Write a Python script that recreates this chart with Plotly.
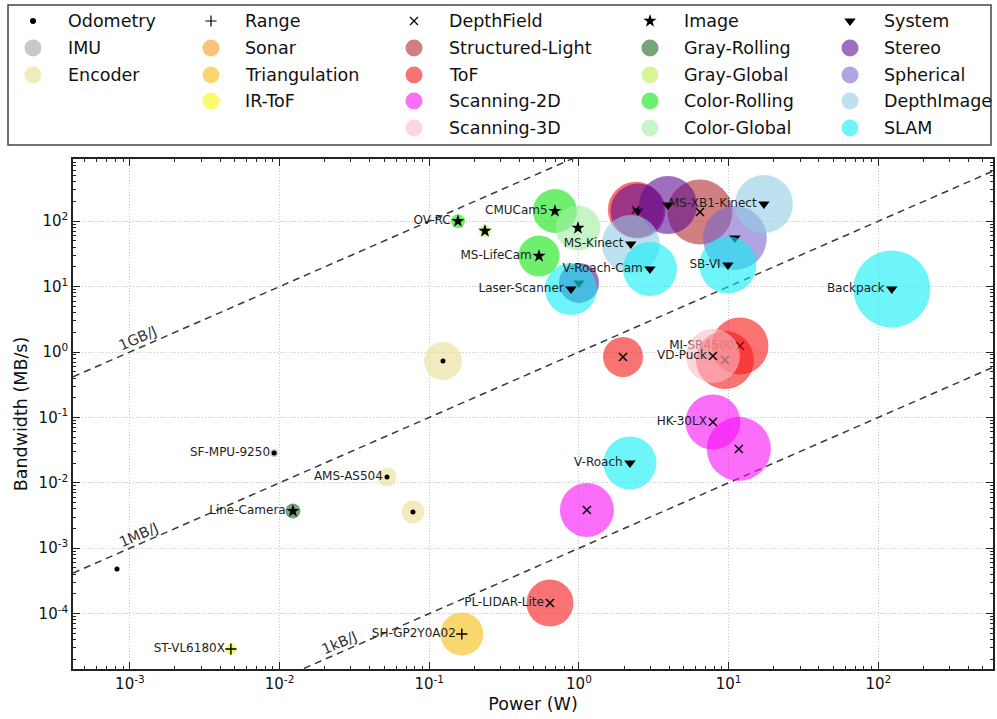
import numpy as np
import plotly.graph_objects as go

# ---------------- data ----------------
odometry_categories = ["IMU", "Encoder"]
range_categories = ["Sonar", "Triangulation", "IR-ToF"]
depthfield_categories = ["Structured-Light", "ToF", "Scanning-2D", "Scanning-3D"]
image_categories = ["Gray-Rolling", "Gray-Global", "Color-Rolling", "Color-Global"]
system_categories = ["Stereo", "Spherical", "DepthImage", "SLAM"]
group_names = ["Odometry", "Range", "DepthField", "Image", "System"]

device_label = ["", "SF-MPU-9250", "AMS-AS504", "", "",
                "ST-VL6180X", "SH-GP2Y0A02",
                "", "MI-SR4500", "", "", "PL-LIDAR-Lite", "", "HK-30LX", "", "", "VD-Puck",
                "Line-Camera", "", "OV-RC", "CMUCam5", "MS-LifeCam", "",
                "", "", "", "", "MS-Kinect", "MS-XB1-Kinect",
                "Laser-Scanner", "V-Roach-Cam", "SB-VI", "Backpack", "V-Roach"]
device_power_w = [8.2e-4, 9.2e-3, 0.0522, 0.0778, 0.1235,
                  4.73e-3, 0.165,
                  6.43, 11.9, 9.45, 1.97, 0.64, 2.40, 7.85, 11.7, 1.13, 7.85,
                  0.01228, 0.2355, 0.1555, 0.691, 0.541, 0.985,
                  1.0, 2.48, 3.93, 11.0, 2.22, 17.2,
                  0.885, 2.98, 9.89, 123.0, 2.19]
device_bandwidth_mbs = [4.8e-4, 0.0286, 0.0123, 3.58e-3, 0.728,
                        2.87e-5, 4.88e-5,
                        138, 1.24, 0.755, 0.84, 1.45e-4, 150, 0.085, 0.0329, 3.84e-3, 0.869,
                        3.7e-3, 70.8, 100, 143, 29.4, 78.7,
                        11.4, 143, 177, 55.3, 44.8, 183,
                        9.19, 18.6, 21.4, 9.19, 0.0201]
device_group = ["Odometry"] * 5 + ["Range"] * 2 + ["DepthField"] * 10 + ["Image"] * 6 + ["System"] * 11
device_category = ["IMU", "IMU", "Encoder", "Encoder", "Encoder",
                   "IR-ToF", "Triangulation",
                   "Structured-Light", "ToF", "ToF", "ToF", "ToF", "ToF",
                   "Scanning-2D", "Scanning-2D", "Scanning-2D", "Scanning-3D",
                   "Gray-Rolling", "Gray-Global", "Color-Rolling", "Color-Rolling", "Color-Rolling", "Color-Global",
                   "Stereo", "Stereo", "Stereo", "Spherical", "DepthImage", "DepthImage",
                   "SLAM", "SLAM", "SLAM", "SLAM", "SLAM"]
device_weight = [5, 8, 19, 23, 38,
                 11, 43,
                 65, 57, 58, 40, 47, 56, 55, 64, 54, 54,
                 15, 12, 14, 44, 41, 45,
                 40, 55, 58, 64, 58, 58,
                 52, 54, 57, 77, 53]

efficiency_labels = ["1GB/J", "1MB/J", "1kB/J"]
efficiency_mb_per_j = [1000.0, 1.0, 0.001]
efficiency_label_power = [1.1e-3, 1.1e-3, 0.0242]

x_tick_vals = [1e-3, 1e-2, 1e-1, 1e0, 1e1, 1e2]
x_tick_text = ["10<sup>-3</sup>", "10<sup>-2</sup>", "10<sup>-1</sup>", "10<sup>0</sup>", "10<sup>1</sup>", "10<sup>2</sup>"]
y_tick_vals = [1e-4, 1e-3, 1e-2, 1e-1, 1e0, 1e1, 1e2]
y_tick_text = ["10<sup>-4</sup>", "10<sup>-3</sup>", "10<sup>-2</sup>", "10<sup>-1</sup>", "10<sup>0</sup>", "10<sup>1</sup>", "10<sup>2</sup>"]

# ---------------- style ----------------
FONT = "DejaVu Sans"
W, H = 997, 719
ALPHA = 0.6
category_rgb = {
    "IMU": (163, 163, 163), "Encoder": (233, 221, 147),
    "Sonar": (247, 155, 30), "Triangulation": (247, 188, 13), "IR-ToF": (247, 247, 13),
    "Structured-Light": (177, 43, 43), "ToF": (247, 22, 22),
    "Scanning-2D": (247, 13, 247), "Scanning-3D": (250, 188, 200),
    "Gray-Rolling": (30, 105, 30), "Gray-Global": (188, 238, 80),
    "Color-Rolling": (13, 230, 13), "Color-Global": (163, 238, 163),
    "Stereo": (97, 13, 147), "Spherical": (122, 105, 205),
    "DepthImage": (147, 205, 230), "SLAM": (13, 238, 247),
}
group_marker = {
    "Odometry": dict(symbol="circle", size=5, color="black", line=dict(width=0)),
    "Range": dict(symbol="cross-thin", size=8, color="black", line=dict(width=1.4, color="black")),
    "DepthField": dict(symbol="x-thin", size=8, color="black", line=dict(width=1.5, color="black")),
    "Image": dict(symbol="star", size=10, color="black", line=dict(width=0)),
    "System": dict(symbol="triangle-down", size=10, color="black", line=dict(width=0)),
}
legend_group_marker = {
    "Odometry": dict(symbol="circle", size=6, color="black", line=dict(width=0)),
    "Range": dict(symbol="cross-thin", size=8, color="black", line=dict(width=1.2, color="black")),
    "DepthField": dict(symbol="x-thin", size=8, color="black", line=dict(width=1.2, color="black")),
    "Image": dict(symbol="star", size=10, color="black", line=dict(width=0)),
    "System": dict(symbol="triangle-down", size=10, color="black", line=dict(width=0)),
}

def rgba(c, a=ALPHA):
    return "rgba(%d,%d,%d,%.2f)" % (c[0], c[1], c[2], a)

# plot area in window pixels
PX_L, PX_R, PX_T, PX_B = 73, 993, 159, 669
x_range = [-3.380, 2.766]
y_range = [-4.847, 2.951]

fig = go.Figure()

# dashed efficiency lines
xl = np.array([10 ** x_range[0], 10 ** x_range[1]])
for eff in efficiency_mb_per_j:
    fig.add_trace(go.Scatter(x=xl, y=eff * xl, mode="lines", showlegend=False, hoverinfo="skip",
                             line=dict(color="#3a3a3a", width=1.5, dash="7px,5px"),
                             xaxis="x", yaxis="y"))

# devices: bubble then marker, in order
for i in range(len(device_label)):
    fig.add_trace(go.Scatter(
        x=[device_power_w[i]], y=[device_bandwidth_mbs[i]], mode="markers", showlegend=False,
        marker=dict(size=device_weight[i], color=rgba(category_rgb[device_category[i]]), line=dict(width=0)),
        hoverinfo="skip"))
    lab = device_label[i]
    if lab:
        fig.add_trace(go.Scatter(
            x=[device_power_w[i]], y=[device_bandwidth_mbs[i]],
            mode="markers+text", text=[lab], textposition="middle left",
            textfont=dict(family=FONT, size=12, color="#1e1e1e"),
            marker=group_marker[device_group[i]], showlegend=False, name=lab))
    else:
        fig.add_trace(go.Scatter(
            x=[device_power_w[i]], y=[device_bandwidth_mbs[i]], mode="markers",
            marker=group_marker[device_group[i]], showlegend=False, name=device_category[i]))

annotations = []
ang = np.degrees(np.arctan2((PX_B - PX_T) / (y_range[1] - y_range[0]), (PX_R - PX_L) / (x_range[1] - x_range[0])))
for lab, eff, p in zip(efficiency_labels, efficiency_mb_per_j, efficiency_label_power):
    annotations.append(dict(x=np.log10(p), y=np.log10(eff * p), xref="x", yref="y", text=lab,
                            showarrow=False, textangle=-ang, xshift=2, yshift=11,
                            font=dict(family=FONT, size=14.5, color="#333")))

# ---------------- legend (drawn on a pixel-mapped helper axis) ----------------
col_marker_x = [33, 211, 414, 650, 850]
col_text_x = [66, 243, 447, 682, 882]
row_y = [21, 48, 75, 101, 128]
all_groups = [odometry_categories, range_categories, depthfield_categories, image_categories, system_categories]
for c, (g, cats) in enumerate(zip(group_names, all_groups)):
    fig.add_trace(go.Scatter(x=[col_marker_x[c]], y=[row_y[0]], mode="markers", marker=legend_group_marker[g],
                             xaxis="x2", yaxis="y2", showlegend=False, hoverinfo="skip"))
    annotations.append(dict(x=col_text_x[c], y=row_y[0], xref="x2", yref="y2", text=g, showarrow=False,
                            xanchor="left", yanchor="middle", font=dict(family=FONT, size=17.5, color="#111")))
    for r, cat in enumerate(cats):
        fig.add_trace(go.Scatter(x=[col_marker_x[c]], y=[row_y[r + 1]], mode="markers",
                                 marker=dict(size=17, color=rgba(category_rgb[cat]), line=dict(width=0)),
                                 xaxis="x2", yaxis="y2", showlegend=False, hoverinfo="skip"))
        annotations.append(dict(x=col_text_x[c], y=row_y[r + 1], xref="x2", yref="y2", text=cat, showarrow=False,
                                xanchor="left", yanchor="middle", font=dict(family=FONT, size=17.5, color="#111")))

minor_x = [m * 10.0 ** e for e in range(-4, 3) for m in range(2, 10)]
minor_y = [m * 10.0 ** e for e in range(-5, 3) for m in range(2, 10)]

axis_common = dict(type="log", showline=True, linecolor="#222", linewidth=1.6, mirror="allticks",
                   ticks="inside", ticklen=7, tickwidth=1, tickcolor="#222",
                   showgrid=True, gridcolor="#c4c4c4", griddash="1px,2px", gridwidth=1,
                   zeroline=False, tickfont=dict(family=FONT, size=15, color="#111"))

LEG_TOP = 150  # legend helper axis spans window pixels 0..LEG_TOP
fig.update_layout(
    width=W, height=H, margin=dict(l=0, r=0, t=0, b=0),
    paper_bgcolor="white", plot_bgcolor="white", showlegend=False,
    font=dict(family=FONT),
    xaxis=dict(**axis_common, domain=[PX_L / W, PX_R / W], range=x_range, anchor="y",
               tickvals=x_tick_vals, ticktext=x_tick_text,
               minor=dict(tickvals=minor_x, ticks="inside", ticklen=3.5, tickcolor="#222", showgrid=False),
               title=dict(text="Power (W)", font=dict(family=FONT, size=17.5, color="#111"), standoff=6)),
    yaxis=dict(**axis_common, domain=[(H - PX_B) / H, (H - PX_T) / H], range=y_range, anchor="x",
               tickvals=y_tick_vals, ticktext=y_tick_text,
               minor=dict(tickvals=minor_y, ticks="inside", ticklen=3.5, tickcolor="#222", showgrid=False),
               title=dict(text="Bandwidth (MB/s)", font=dict(family=FONT, size=17.5, color="#111"), standoff=6)),
    xaxis2=dict(domain=[0, 1], range=[0, W], visible=False, anchor="y2", fixedrange=True),
    yaxis2=dict(domain=[1 - LEG_TOP / H, 1], range=[LEG_TOP, 0], visible=False, anchor="x2",
                fixedrange=True),
    annotations=annotations,
    shapes=[dict(type="rect", xref="x2", yref="y2", x0=8, x1=991, y0=5, y1=145,
                 line=dict(color="#444", width=1.5), fillcolor="rgba(0,0,0,0)", layer="below")],
)

fig.write_html("out.html", config={"displayModeBar": False},
               post_script="document.body.style.margin='0';document.body.style.overflow='hidden';")
